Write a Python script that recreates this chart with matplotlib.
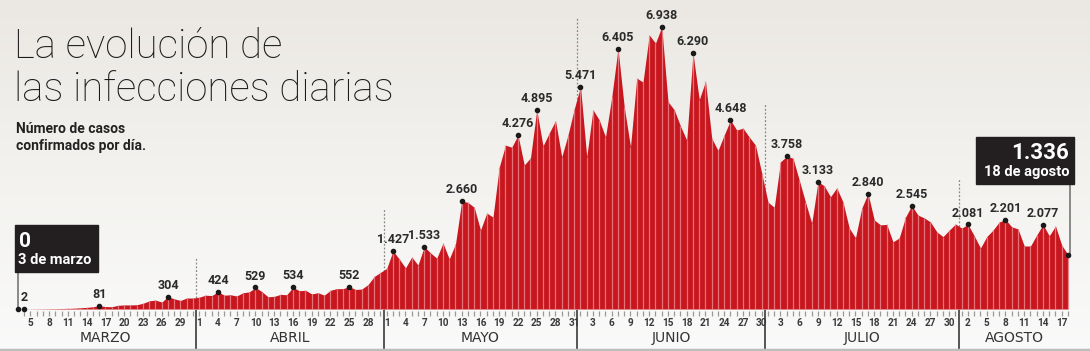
import matplotlib
matplotlib.use("Agg")
import matplotlib.pyplot as plt
import numpy as np
import pandas as pd
from matplotlib.colors import LinearSegmentedColormap

# daily confirmed cases, 3 March - 18 August
marzo = [0, 2, 3, 5, 6, 8, 10, 12, 15, 20, 30, 40, 55, 81, 60, 55, 90, 100, 100, 105,
         140, 200, 220, 170, 304, 250, 210, 270, 270]
abril = [290, 340, 330, 424, 340, 350, 320, 400, 420, 529, 430, 300, 310, 360, 350, 534,
         450, 460, 370, 400, 340, 460, 500, 500, 552, 480, 490, 600, 800, 900]
mayo = [1000, 1427, 1230, 1010, 1280, 1080, 1533, 1380, 1250, 1620, 1230, 1600, 2660, 2620,
        2500, 1940, 2360, 2260, 3490, 4030, 3980, 4276, 3540, 3720, 4895, 4010, 4330, 4630,
        3740, 4280, 4920]
junio = [5471, 3740, 4900, 4650, 4230, 5210, 6405, 4970, 3990, 5680, 5580, 6740, 6540, 6938,
         5100, 4900, 4500, 4150, 6290, 5150, 5600, 4200, 3900, 4280, 4648, 4400, 4450, 4230,
         4030, 3340]
julio = [2630, 2500, 3620, 3758, 3710, 3170, 2630, 2110, 3133, 3030, 2760, 2980, 2630, 1990,
         1750, 2480, 2840, 2190, 2070, 2080, 1650, 1750, 2260, 2545, 2310, 2240, 2140, 1900,
         1780, 1940, 2090]
agosto = [1990, 2081, 1800, 1500, 1780, 1940, 2140, 2201, 2020, 1970, 1550, 1550, 1820, 2077,
          1800, 2040, 1570, 1336]

casos = marzo + abril + mayo + junio + julio + agosto
fechas = pd.date_range("2020-03-03", "2020-08-18")

# highlighted days (index into casos) and their labels
marcados = [1, 13, 24, 32, 38, 44, 53, 60, 65, 71, 80, 83, 90, 96, 103, 108, 114,
            123, 128, 136, 143, 152, 158, 164]
etiquetas = ["2", "81", "304", "424", "529", "534", "552", "1.427", "1.533", "2.660",
             "4.276", "4.895", "5.471", "6.405", "6.938", "6.290", "4.648", "3.758",
             "3.133", "2.840", "2.545", "2.081", "2.201", "2.077"]

meses = ["MARZO", "ABRIL", "MAYO", "JUNIO", "JULIO", "AGOSTO"]

W, H = 1090, 351
fig = plt.figure(figsize=(W / 100, H / 100), dpi=100)

# background gradient
bg = fig.add_axes([0, 0, 1, 1], zorder=-5)
grad = np.linspace(0, 1, 256).reshape(-1, 1)
cm = LinearSegmentedColormap.from_list("bg", ["#ebe8e3", "#f3f2ef", "#fafafa"])
bg.imshow(grad, aspect="auto", cmap=cm, extent=[0, 1, 0, 1], origin="upper")
bg.set_axis_off()

ax = fig.add_axes([0, 0, 1, 1])
ax.patch.set_alpha(0)
ax.set_axis_off()

# pixel -> data mapping: day 0 at x=18px, 6.25 px/day; baseline y=309px, 0.04065 px/case
ppd, ppc, y0 = 6.25, 0.04065, 309
ax.set_xlim(-18 / ppd, (W - 18) / ppd)
ax.set_ylim(-(H - y0) / ppc, y0 / ppc)


def yv(py):
    return (y0 - py) / ppc


x = np.arange(len(casos))
rojo = "#c8161e"
fuente = ["Roboto", "DejaVu Sans"]

# month boundaries
limites = [i - 0.5 for i in range(1, len(fechas)) if fechas[i].month != fechas[i - 1].month]
tops = [258, 208, 18, 103, 178]
for b, t in zip(limites, tops):
    ax.plot([b, b], [0, yv(t)], color="#888888", lw=0.9, ls=(0, (1.5, 1.5)), zorder=1)
    ax.plot([b, b], [yv(311), yv(348)], color="#555555", lw=1.4, zorder=3)

ax.fill_between(x, casos, 0, color=rojo, lw=0, zorder=2)
ax.vlines(x, 0, casos, color="#ec8a90", lw=0.9, alpha=0.8, zorder=2.5)

# ticks and day labels
ax.vlines(x[1:], yv(310.5), yv(316), color="#999999", lw=0.9, zorder=3)
for i in range(2, len(fechas), 3):
    ax.text(i, yv(323), str(fechas[i].day), ha="center", va="center", fontsize=7.2,
            fontweight="bold", color="#3a3a3a", family=fuente)

# month names
for m, nombre in enumerate(meses):
    idx = np.where(fechas.month == 3 + m)[0]
    ax.text((idx[0] + idx[-1]) / 2, yv(338), nombre, ha="center", va="center",
            fontsize=10, color="#333333", family="DejaVu Sans")

ax.plot([-5, 175], [yv(349.5), yv(349.5)], color="#bdbdbd", lw=2.5, zorder=3,
        clip_on=False)

# dots and value labels
ax.scatter([0] + marcados + [len(casos) - 1],
           [casos[0]] + [casos[i] for i in marcados] + [casos[-1]],
           s=9, color="#1a1a1a", zorder=5)
for i, t in zip(marcados, etiquetas):
    ax.annotate(t, (i, casos[i]), xytext=(0, 3.5), textcoords="offset points",
                ha="center", va="bottom", fontsize=9, fontweight="bold",
                color="#2a2a2a", zorder=6, family=fuente)

# callout boxes
ax.plot([0, 0], [0, yv(271)], color="#777777", lw=1.2, zorder=4)
fig.patches.append(plt.Rectangle((15 / W, 1 - 272 / H), 83 / W, 47 / H,
                                 transform=fig.transFigure, color="#231f20", zorder=5))
fig.text(19 / W, 1 - 247 / H, "0", fontsize=15, fontweight="bold", color="white",
         va="baseline", zorder=6, family=fuente)
fig.text(18 / W, 1 - 264 / H, "3 de marzo", fontsize=10.5, fontweight="bold", color="white",
         va="baseline", zorder=6, family=fuente)

n = len(casos) - 1
ax.plot([n + 0.3, n + 0.3], [casos[-1], yv(184)], color="#777777", lw=1.2, zorder=4)
fig.patches.append(plt.Rectangle((976 / W, 1 - 184 / H), 98 / W, 47 / H,
                                 transform=fig.transFigure, color="#231f20", zorder=5))
fig.text(1069 / W, 1 - 159 / H, "1.336", fontsize=16, fontweight="bold", color="white",
         ha="right", va="baseline", zorder=6, family=fuente)
fig.text(1069 / W, 1 - 176 / H, "18 de agosto", fontsize=10.5, fontweight="bold",
         color="white", ha="right", va="baseline", zorder=6, family=fuente)

# titles
fig.text(14 / W, 1 - 58 / H, "La evolución de", fontsize=29, family="Roboto",
         fontweight="light", color="#1a1a1a", va="baseline")
fig.text(14 / W, 1 - 101 / H, "las infecciones diarias", fontsize=29, family="Roboto",
         fontweight="light", color="#1a1a1a", va="baseline")
fig.text(16 / W, 1 - 133 / H, "Número de casos", fontsize=10, family="Roboto",
         fontweight="bold", color="#222222", va="baseline")
fig.text(16 / W, 1 - 150 / H, "confirmados por día.", fontsize=10, family="Roboto",
         fontweight="bold", color="#222222", va="baseline")

fig.savefig("out.png", dpi=100)
